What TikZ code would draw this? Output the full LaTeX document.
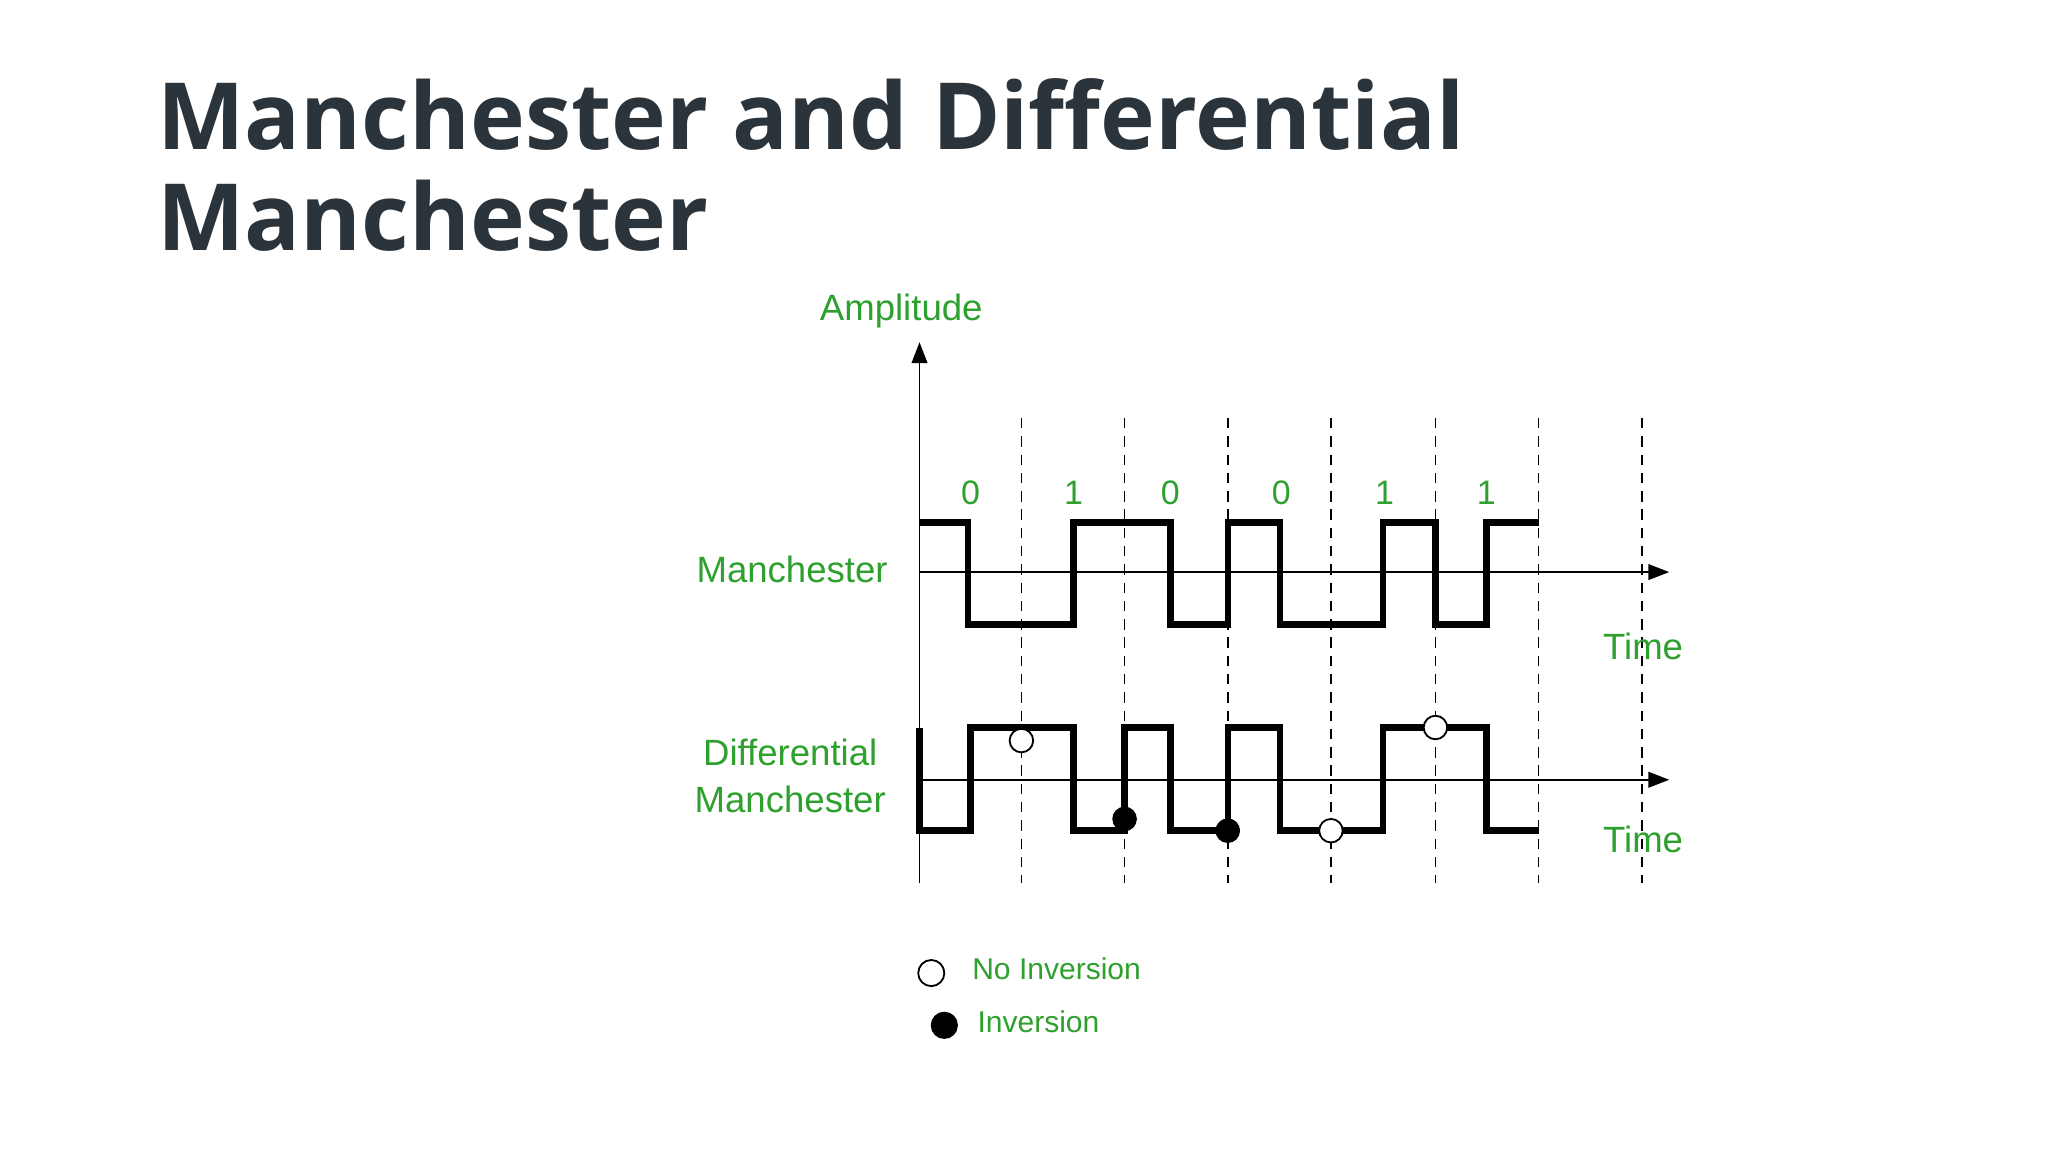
\documentclass[tikz,border=0pt]{standalone}
\usepackage{fontspec}
\setmainfont{Liberation Sans}
\newfontfamily\titlefont{Open Sans}
\usetikzlibrary{arrows.meta}
\definecolor{ttl}{HTML}{2B333B}
\definecolor{grn}{HTML}{2EA02E}
\begin{document}
\begin{tikzpicture}[x=0.5pt,y=-0.5pt,
  lab/.style={text=grn,font=\fontsize{14}{16}\selectfont,inner sep=0},
  dig/.style={text=grn,font=\fontsize{13}{15}\selectfont,inner sep=0},
  wave/.style={line width=2.5pt,line join=miter},
  ax/.style={line width=0.7pt,-{Triangle[length=8pt,width=6pt]}},
  grid/.style={dashed,line width=0.6pt,dash pattern=on 4pt off 3pt},
  opendot/.style={circle,draw=black,fill=white,line width=0.7pt,minimum size=9pt,inner sep=0},
  fulldot/.style={circle,draw=black,fill=black,minimum size=9pt,inner sep=0}]
\useasboundingbox (0,0) rectangle (1568,882);
\fill[white] (0,0) rectangle (1568,882);
\node[anchor=north west,align=left,text=ttl,inner sep=0,font=\titlefont\bfseries\fontsize{35.5}{38.5}\selectfont] (title) at (120,60) {Manchester and Differential\\Manchester};
% grid
\foreach \i/\x in {1/782,2/861,3/940,4/1019,5/1099,6/1178,7/1257}{
  \coordinate (gt\i) at (\x,320); \coordinate (gb\i) at (\x,676);
  \draw[grid] (gt\i) -- (gb\i);}
% axes
\coordinate (yo) at (704,676); \coordinate (yt) at (704,262);
\draw[ax] (yo) -- (yt);
\coordinate (m0) at (704,438); \coordinate (m1) at (1278,438);
\draw[ax] (m0) -- (m1);
\coordinate (d0) at (704,597); \coordinate (d1) at (1278,597);
\draw[ax] (d0) -- (d1);
% Manchester
\draw[wave] (704,400) -- (741,400) -- (741,478) -- (822,478) -- (822,400) -- (896,400) -- (896,478) -- (940,478) -- (940,400) -- (980,400) -- (980,478) -- (1059,478) -- (1059,400) -- (1099,400) -- (1099,478) -- (1138,478) -- (1138,400) -- (1178,400);
% Differential
\draw[wave] (704,557) -- (704,636) -- (743,636) -- (743,557) -- (822,557) -- (822,636) -- (861,636) -- (861,557) -- (896,557) -- (896,636) -- (940,636) -- (940,557) -- (980,557) -- (980,636) -- (1059,636) -- (1059,557) -- (1138,557) -- (1138,636) -- (1178,636);
\node[opendot] (c1) at (782,567) {};
\node[fulldot] (c2) at (861,627) {};
\node[fulldot] (c3) at (940,636) {};
\node[opendot] (c4) at (1019,636) {};
\node[opendot] (c5) at (1099,557) {};
% labels
\node[lab] (amp) at (690,238) {Amplitude};
\node[lab,anchor=east] (man) at (680,436) {Manchester};
\node[lab,align=center] (dman) at (605,594) {Differential\\[2pt]Manchester};
\node[lab] (t1) at (1258,495) {Time};
\node[lab] (t2) at (1258,643) {Time};
\foreach \i/\x/\b in {1/743/0,2/822/1,3/896/0,4/981/0,5/1060/1,6/1138/1}
  \node[dig] (b\i) at (\x,377) {\b};
% legend
\node[opendot,minimum size=10pt] (lo) at (713,745) {};
\node[text=grn,anchor=west,inner sep=0,font=\fontsize{11.5}{13}\selectfont] (lot) at (744,742) {No Inversion};
\node[fulldot,minimum size=10pt] (lf) at (723,785) {};
\node[text=grn,anchor=west,inner sep=0,font=\fontsize{11.5}{13}\selectfont] (lft) at (748,782) {Inversion};
\end{tikzpicture}
\end{document}
